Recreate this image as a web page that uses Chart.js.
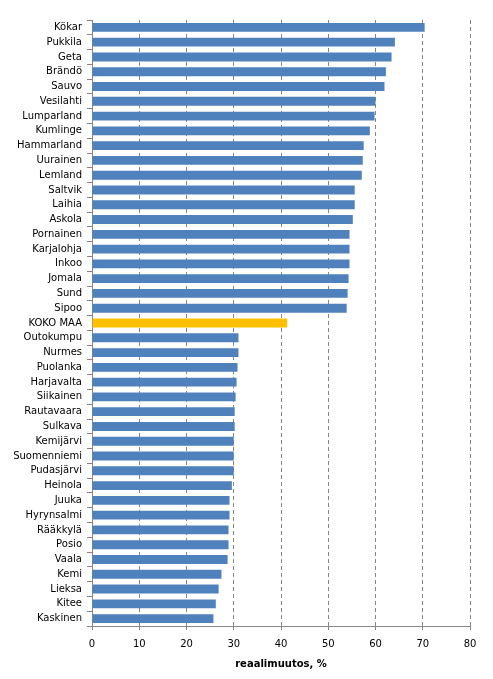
<!DOCTYPE html>
<html>
<head>
<meta charset="utf-8">
<script src="https://cdn.jsdelivr.net/npm/chart.js@4"></script>
<style>
  html, body { margin: 0; padding: 0; background: #fff; }
  #wrap { width: 493px; height: 679px; }
</style>
</head>
<body>
<div id="wrap"><canvas id="chart" width="493" height="679"></canvas></div>
<script>
var kunnat = ['Kökar', 'Pukkila', 'Geta', 'Brändö', 'Sauvo', 'Vesilahti', 'Lumparland', 'Kumlinge',
  'Hammarland', 'Uurainen', 'Lemland', 'Saltvik', 'Laihia', 'Askola', 'Pornainen', 'Karjalohja',
  'Inkoo', 'Jomala', 'Sund', 'Sipoo', 'KOKO MAA', 'Outokumpu', 'Nurmes', 'Puolanka', 'Harjavalta',
  'Siikainen', 'Rautavaara', 'Sulkava', 'Kemijärvi', 'Suomenniemi', 'Pudasjärvi', 'Heinola', 'Juuka',
  'Hyrynsalmi', 'Rääkkylä', 'Posio', 'Vaala', 'Kemi', 'Lieksa', 'Kitee', 'Kaskinen'];
var reaalimuutos = [70.4, 64.1, 63.4, 62.2, 61.9, 60.0, 59.8, 58.8,
  57.5, 57.3, 57.1, 55.6, 55.6, 55.2, 54.5, 54.5,
  54.5, 54.3, 54.1, 53.9, 41.3, 31.0, 31.0, 30.8, 30.6,
  30.4, 30.2, 30.2, 30.0, 30.0, 30.0, 29.6, 29.1,
  29.1, 28.9, 28.9, 28.7, 27.4, 26.8, 26.2, 25.7];
var xTicks = [0, 10, 20, 30, 40, 50, 60, 70, 80];
var koko = 'KOKO MAA';

var barColors = kunnat.map(function (k) {
  return k === koko ? 'rgb(255, 192, 0)' : 'rgb(79, 129, 189)';
});

var axisGray = 'rgb(134, 134, 134)';
var fontName = '"DejaVu Sans", Verdana, sans-serif';

var myChart = new Chart(document.getElementById('chart'), {
  type: 'bar',
  data: {
    labels: kunnat,
    datasets: [{
      label: 'reaalimuutos, %',
      data: reaalimuutos,
      backgroundColor: barColors,
      borderWidth: 0,
      barPercentage: 0.6,
      categoryPercentage: 1.0
    }]
  },
  options: {
    indexAxis: 'y',
    responsive: false,
    animation: false,
    layout: {
      padding: {top: 20, right: 23, left: 0, bottom: 9}
    },
    plugins: {
      legend: {display: false},
      tooltip: {enabled: false}
    },
    scales: {
      x: {
        min: 0,
        max: 80,
        afterBuildTicks: function (scale) {
          scale.ticks = xTicks.map(function (v) { return {value: v}; });
        },
        afterFit: function (scale) {
          scale.height = 44;
        },
        grid: {
          color: axisGray,
          lineWidth: 1,
          tickLength: 4,
          drawTicks: true
        },
        border: {
          display: true,
          color: axisGray,
          dash: [4, 3]
        },
        ticks: {
          color: '#000',
          padding: 8,
          font: {family: fontName, size: 10}
        },
        title: {
          display: true,
          text: 'reaalimuutos, %',
          color: '#000',
          padding: {top: 4, bottom: 0},
          font: {family: fontName, size: 10, weight: 'bold'}
        }
      },
      y: {
        afterFit: function (scale) {
          scale.width = 92;
        },
        grid: {
          display: true,
          drawOnChartArea: false,
          drawTicks: true,
          tickLength: 5,
          offset: true,
          color: axisGray
        },
        border: {
          display: true,
          color: axisGray
        },
        ticks: {
          color: '#000',
          padding: 5,
          autoSkip: false,
          font: {family: fontName, size: 10}
        }
      }
    }
  }
});
</script>
</body>
</html>
